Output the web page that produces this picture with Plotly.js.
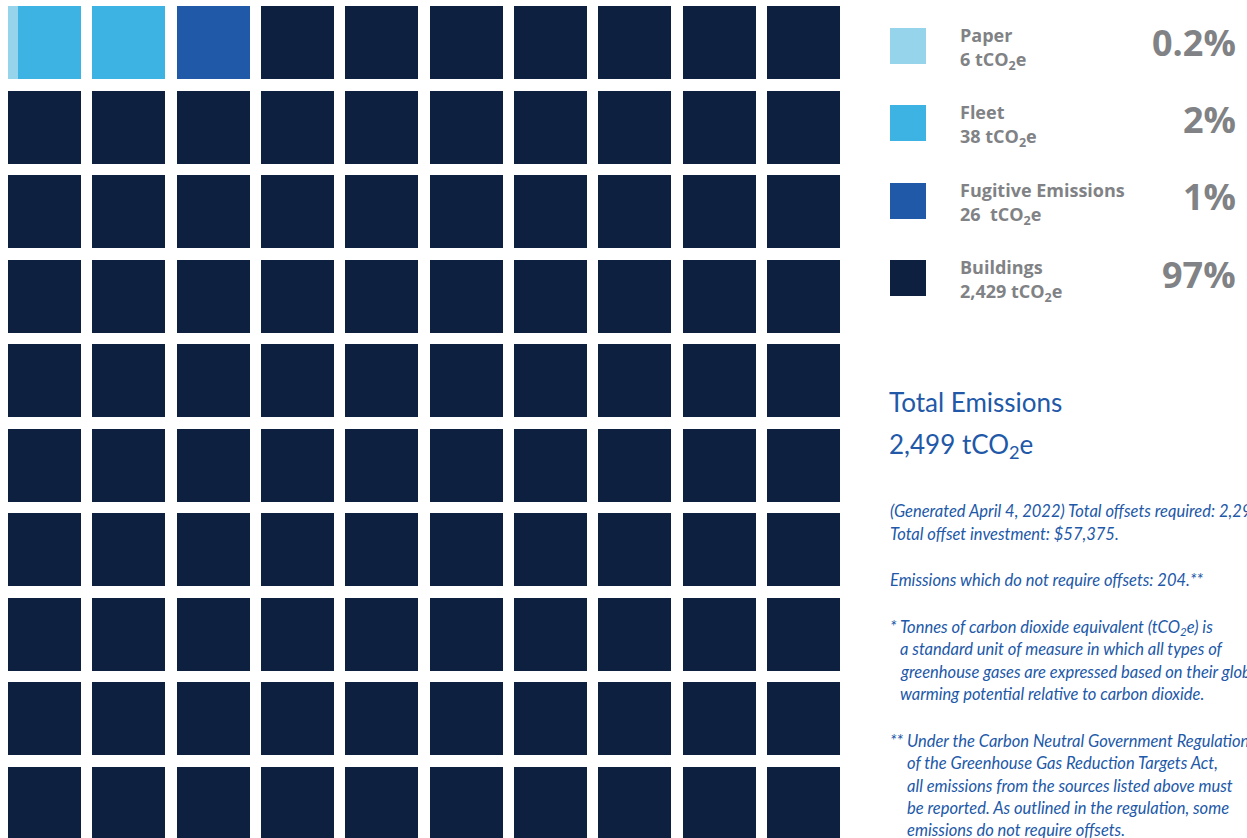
<!DOCTYPE html>
<html>
<head>
<meta charset="utf-8">
<script src="https://cdn.plot.ly/plotly-3.0.1.min.js"></script>
<style>html,body{margin:0;padding:0;background:#fff;overflow:hidden}#chart{width:1247px;height:838px}</style>
</head>
<body>
<div id="chart"></div>
<script>
// ---- data ----
const categories = ['Paper', 'Fleet', 'Fugitive Emissions', 'Buildings'];
const emissions = [6, 38, 26, 2429];            // tCO2e
const emissionLabels = ['6', '38', '26&nbsp;', '2,429'];
const percentLabels = ['0.2%', '2%', '1%', '97%'];
const waffleUnits = [0.14, 1.86, 1, 97];          // cells of the 10x10 waffle
const colors = ['#96d4ec', '#3db3e3', '#1f59a8', '#0d2040'];
const totalLabel = '2,499';
const notes = [
  '(Generated April 4, 2022) Total offsets required: 2,295.',
  'Total offset investment: $57,375.',
  'Emissions which do not require offsets: 204.**'
];
const footnote1 = ['* Tonnes of carbon dioxide equivalent (tCO<sub>2</sub>e) is',
  'a standard unit of measure in which all types of',
  'greenhouse gases are expressed based on their global',
  'warming potential relative to carbon dioxide.'];
const footnote2 = ['** Under the Carbon Neutral Government Regulation',
  'of the Greenhouse Gas Reduction Targets Act,',
  'all emissions from the sources listed above must',
  'be reported. As outlined in the regulation, some',
  'emissions do not require offsets.'];

// ---- build waffle ----
const W = 1247, H = 838;
const nCols = 10;
const fill = 0.865; // share of a grid pitch covered by a cell
const traces = [];
let cum = 0;
categories.forEach((cat, i) => {
  const ys = [], bases = [], lens = [];
  let a = cum, b = cum + waffleUnits[i];
  let k = Math.floor(a + 1e-9);
  while (k < b - 1e-9) {
    const s = Math.max(a, k), e = Math.min(b, k + 1);
    const col = k % nCols, row = Math.floor(k / nCols);
    ys.push(row);
    bases.push(col + (s - k) * fill);
    lens.push((e - s) * fill);
    k++;
  }
  cum = b;
  traces.push({
    type: 'bar', orientation: 'h', name: cat,
    y: ys, base: bases, x: lens, width: 0.864,
    marker: {color: colors[i], line: {width: 0}},
    hoverinfo: 'skip', showlegend: false
  });
});

const px = x => x / W, py = y => 1 - y / H;
const grey = '#808285', blue = '#2158a8';
const shapes = [], annotations = [];
const rowY = [46, 123, 201, 278];
const lblFont = {family: 'Open Sans', size: 18, color: grey, weight: 700};
categories.forEach((cat, i) => {
  const cy = rowY[i];
  shapes.push({type: 'rect', xref: 'paper', yref: 'paper', x0: px(890), x1: px(926), y0: py(cy - 18), y1: py(cy + 18),
    fillcolor: colors[i], line: {width: 0}});
  annotations.push({xref: 'paper', yref: 'paper', x: px(958), y: py(cy - 11), xanchor: 'left', yanchor: 'middle',
    text: cat, showarrow: false, font: lblFont});
  annotations.push({xref: 'paper', yref: 'paper', x: px(958), y: py(cy + 14), xanchor: 'left', yanchor: 'middle',
    text: emissionLabels[i] + ' tCO<sub>2</sub>e', showarrow: false, font: lblFont});
  annotations.push({xref: 'paper', yref: 'paper', x: px(1238), y: py(cy - 4), xanchor: 'right', yanchor: 'middle',
    text: percentLabels[i], showarrow: false, font: {family: 'Open Sans', size: 36, color: grey, weight: 700}});
});
annotations.push({xref: 'paper', yref: 'paper', x: px(887), y: py(402), xanchor: 'left', yanchor: 'middle',
  text: 'Total Emissions', showarrow: false, font: {family: 'Lato', size: 26, color: blue}});
annotations.push({xref: 'paper', yref: 'paper', x: px(887), y: py(446), xanchor: 'left', yanchor: 'middle',
  text: totalLabel + ' tCO<sub>2</sub>e', showarrow: false, font: {family: 'Lato', size: 26, color: blue}});

const itFont = {family: 'Lato', size: 16.5, color: blue, style: 'italic'};
const addLine = (t, x, y) => annotations.push({xref: 'paper', yref: 'paper', x: px(x), y: py(y), xanchor: 'left', yanchor: 'middle',
  text: '<i>' + t + '</i>', showarrow: false, font: itFont});
addLine(notes[0], 888, 511);
addLine(notes[1], 888, 534);
addLine(notes[2], 888, 580);
footnote1.forEach((t, i) => addLine(t, i === 0 ? 888 : 898, 627 + i * 22.3));
footnote2.forEach((t, i) => addLine(t, i === 0 ? 888 : 905, 741 + i * 22.3));

const x0 = -8 / 84.33;
const layout = {
  width: W, height: H, margin: {l: 0, r: 0, t: 0, b: 0},
  paper_bgcolor: '#fff', plot_bgcolor: '#fff',
  barmode: 'overlay', bargap: 0,
  xaxis: {domain: [0, 850 / W], range: [x0, x0 + 850 / 84.33], visible: false, fixedrange: true},
  yaxis: {range: [(H - 42.5) / 84.5, -42.5 / 84.5], visible: false, fixedrange: true},
  shapes, annotations, showlegend: false
};
Plotly.newPlot('chart', traces, layout, {displayModeBar: false, staticPlot: true});
</script>
</body>
</html>
